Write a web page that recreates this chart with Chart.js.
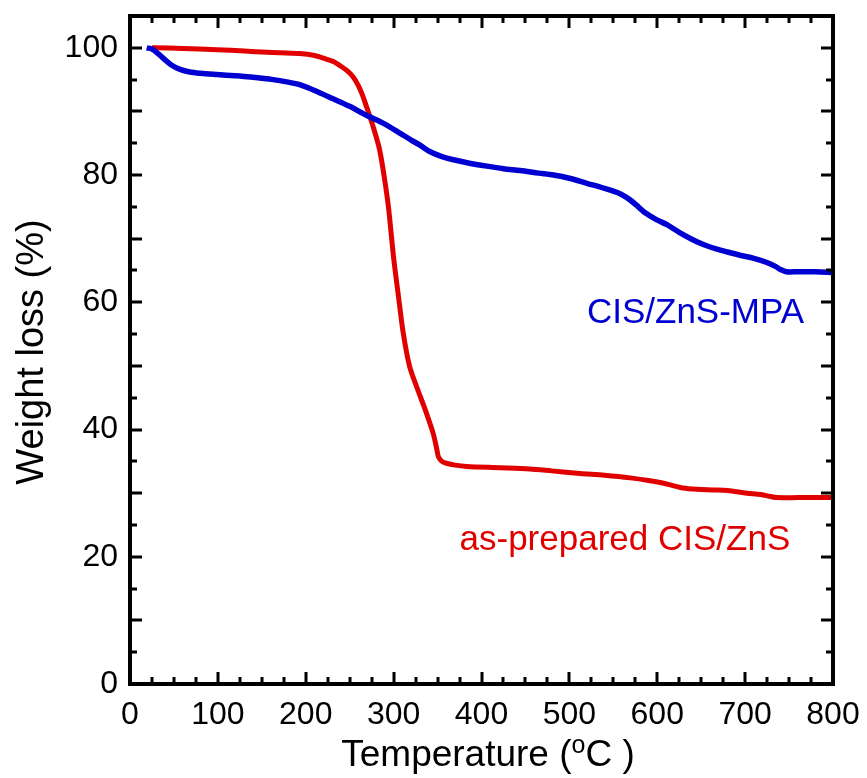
<!DOCTYPE html>
<html lang="en">
<head>
    <meta charset="UTF-8">
    <title>TGA curves</title>
    <script src="https://cdn.jsdelivr.net/npm/chart.js"></script>
    <style>
        body { margin: 0; background: #fff; }
        canvas { display: block; }
    </style>
</head>
<body>
    <canvas id="tga" width="867" height="778"></canvas>

    <script>
        // CIS/ZnS-MPA (blue)
        var mpaTemp = [19, 25, 32, 40, 47, 57, 68, 80, 99, 120, 137, 163, 180, 193, 210, 231, 250, 269, 290, 307, 320, 330, 341, 355, 368, 385, 406, 425, 444, 465, 482, 500, 520, 540, 557, 569, 576, 585, 599, 611, 625, 641, 654, 667, 680, 694, 710, 724, 735, 741, 747, 760, 780, 800];
        var mpaWeight = [100, 99.8, 99.1, 98.1, 97.3, 96.6, 96.2, 96.0, 95.8, 95.6, 95.4, 95.0, 94.6, 94.2, 93.3, 92.0, 90.8, 89.4, 88.0, 86.6, 85.5, 84.7, 83.7, 82.9, 82.4, 81.9, 81.4, 81.0, 80.7, 80.3, 80.0, 79.5, 78.7, 77.9, 77.1, 76.1, 75.3, 74.2, 73.0, 72.2, 71.0, 69.8, 69.0, 68.4, 67.9, 67.4, 66.9, 66.3, 65.6, 65.1, 64.8, 64.8, 64.8, 64.7];

        // as-prepared CIS/ZnS (red)
        var asTemp = [25, 28, 60, 99, 130, 156, 193, 210, 224, 232, 239, 247, 254, 260, 265, 269, 273, 278, 284, 289, 294, 300, 306, 311, 318, 326, 336, 345, 349, 351, 355, 360, 370, 383, 421, 455, 480, 512, 540, 569, 590, 606, 620, 629, 645, 663, 680, 702, 718, 728, 736, 760, 800];
        var asWeight = [100, 100, 99.9, 99.7, 99.5, 99.3, 99.1, 98.8, 98.2, 97.8, 97.2, 96.4, 95.4, 94.0, 92.4, 90.8, 89.2, 87.0, 84.0, 80.0, 75.1, 67.0, 60.4, 55.1, 50.0, 46.8, 43.1, 39.4, 37.0, 35.7, 35.0, 34.7, 34.4, 34.2, 34.0, 33.8, 33.5, 33.1, 32.8, 32.4, 32.0, 31.6, 31.1, 30.8, 30.6, 30.5, 30.4, 30.0, 29.8, 29.5, 29.3, 29.3, 29.3];

        var xLabels = [0, 100, 200, 300, 400, 500, 600, 700, 800];
        var yLabels = [0, 20, 40, 60, 80, 100];

        function toPoints(xs, ys) {
            return xs.map(function(x, i) { return { x: x, y: ys[i] }; });
        }

        var BLUE = '#0000d0';
        var RED = '#e00000';
        var FONT = '"Liberation Sans", Arial, sans-serif';

        // frame, inward ticks, titles and curve labels
        var decorations = {
            id: 'decorations',
            afterDraw: function(chart) {
                var ctx = chart.ctx;
                var a = chart.chartArea;
                var xs = chart.scales.x, ys = chart.scales.y;
                ctx.save();
                ctx.strokeStyle = '#000';
                ctx.lineWidth = 3;
                ctx.beginPath();
                for (var t = 25; t < 800; t += 25) {
                    var px = Math.round(xs.getPixelForValue(t));
                    var len = (t % 100 === 0) ? 12 : 7;
                    ctx.moveTo(px, a.bottom); ctx.lineTo(px, a.bottom - len);
                    ctx.moveTo(px, a.top); ctx.lineTo(px, a.top + len);
                }
                for (var w = 5; w < 105; w += 5) {
                    var py = Math.round(ys.getPixelForValue(w));
                    var l = (w % 10 === 0) ? 12 : 7;
                    ctx.moveTo(a.left, py); ctx.lineTo(a.left + l, py);
                    ctx.moveTo(a.right, py); ctx.lineTo(a.right - l, py);
                }
                ctx.stroke();
                ctx.lineWidth = 4;
                ctx.strokeRect(a.left, a.top, a.right - a.left, a.bottom - a.top);

                // y title
                ctx.fillStyle = '#000';
                ctx.font = '38px ' + FONT;
                ctx.textAlign = 'center';
                ctx.textBaseline = 'alphabetic';
                ctx.save();
                ctx.translate(43, 352);
                ctx.rotate(-Math.PI / 2);
                ctx.fillText('Weight loss (%)', 0, 0);
                ctx.restore();

                // x title with superscript o
                var p1 = 'Temperature (', sup = 'o', p2 = 'C )';
                ctx.font = '37px ' + FONT;
                var w1 = ctx.measureText(p1).width, w3 = ctx.measureText(p2).width;
                ctx.font = '25px ' + FONT;
                var w2 = ctx.measureText(sup).width;
                var x0 = 488 - (w1 + w2 + w3) / 2;
                ctx.textAlign = 'left';
                ctx.font = '37px ' + FONT;
                ctx.fillText(p1, x0, 766);
                ctx.font = '25px ' + FONT;
                ctx.fillText(sup, x0 + w1, 753);
                ctx.font = '37px ' + FONT;
                ctx.fillText(p2, x0 + w1 + w2, 766);

                // curve labels
                ctx.font = '35px ' + FONT;
                ctx.fillStyle = BLUE;
                ctx.fillText('CIS/ZnS-MPA', xs.getPixelForValue(520), ys.getPixelForValue(56.8));
                ctx.fillStyle = RED;
                ctx.fillText('as-prepared CIS/ZnS', xs.getPixelForValue(375), ys.getPixelForValue(21.1));
                ctx.restore();
            }
        };

        var ctx = document.getElementById('tga').getContext('2d');
        var chart = new Chart(ctx, {
            type: 'scatter',
            data: {
                datasets: [{
                    label: 'CIS/ZnS-MPA',
                    data: toPoints(mpaTemp, mpaWeight),
                    showLine: true,
                    borderColor: BLUE,
                    borderWidth: 5.5,
                    pointRadius: 0,
                    tension: 0.3
                }, {
                    label: 'as-prepared CIS/ZnS',
                    data: toPoints(asTemp, asWeight),
                    showLine: true,
                    borderColor: RED,
                    borderWidth: 5,
                    pointRadius: 0,
                    tension: 0.3
                }]
            },
            options: {
                responsive: false,
                animation: false,
                layout: { padding: { top: 16, right: 34, left: 0, bottom: 0 } },
                plugins: {
                    legend: { display: false },
                    tooltip: { enabled: false }
                },
                scales: {
                    x: {
                        type: 'linear',
                        min: 0, max: 800,
                        grid: { display: false, drawTicks: false },
                        border: { display: false },
                        afterBuildTicks: function(s) { s.ticks = xLabels.map(function(v) { return { value: v }; }); },
                        afterFit: function(s) {
                            s.height = 94;
                            s.paddingLeft = 0; s.paddingRight = 0;
                        },
                        ticks: { color: '#000', padding: 12, maxRotation: 0, font: { family: FONT, size: 32 } }
                    },
                    y: {
                        type: 'linear',
                        min: 0, max: 105,
                        grid: { display: false, drawTicks: false },
                        border: { display: false },
                        afterBuildTicks: function(s) { s.ticks = yLabels.map(function(v) { return { value: v }; }); },
                        afterFit: function(s) {
                            s.width = 130;
                            s.paddingTop = 0; s.paddingBottom = 0;
                        },
                        ticks: { color: '#000', padding: 12, font: { family: FONT, size: 32 } }
                    }
                }
            },
            plugins: [decorations]
        });
    </script>
</body>
</html>
